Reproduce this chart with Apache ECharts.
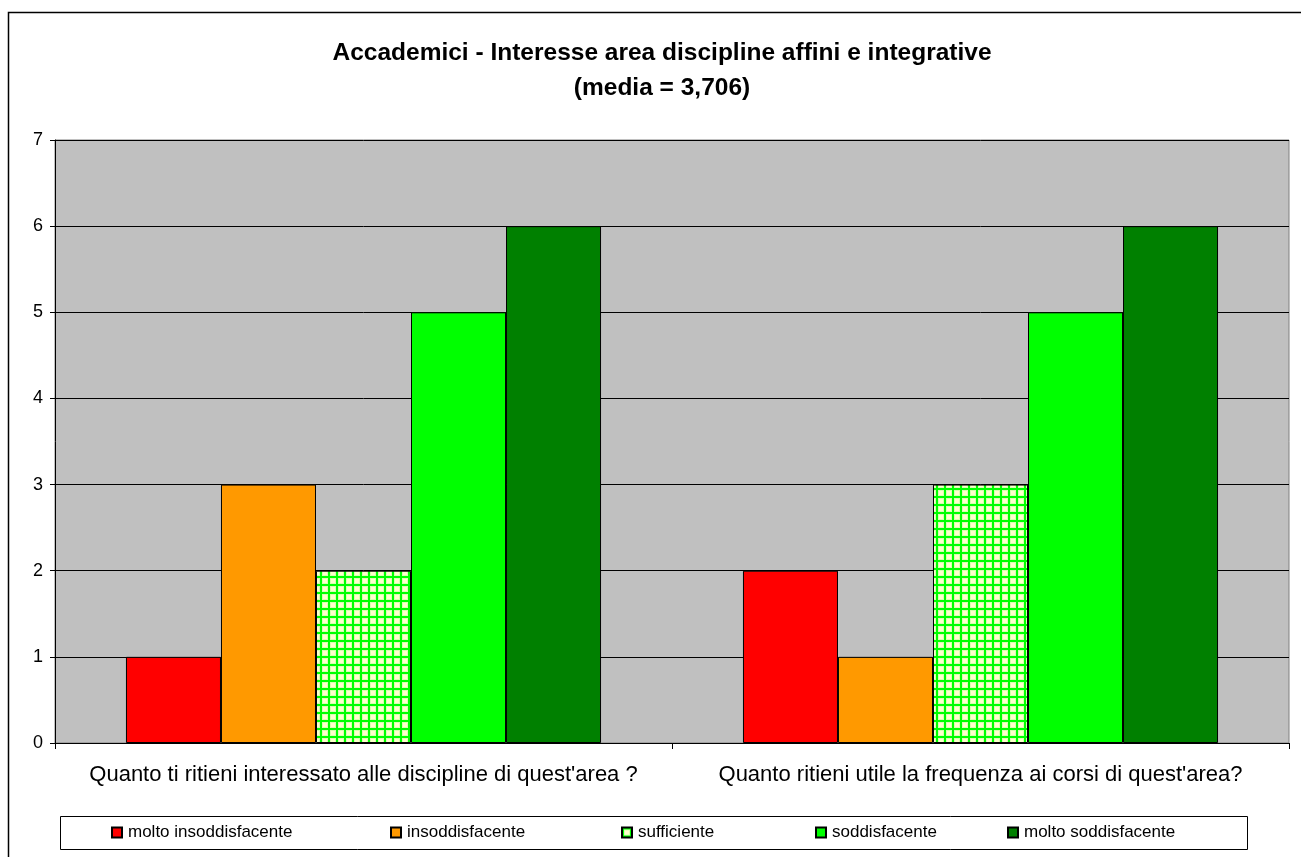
<!DOCTYPE html>
<html>
<head>
<meta charset="utf-8">
<title>Accademici - Interesse area discipline affini e integrative</title>
<script src="https://cdn.jsdelivr.net/npm/echarts@6/dist/echarts.min.js"></script>
<style>
  html, body { margin: 0; padding: 0; background: #fff; }
  #chart { width: 1301px; height: 857px; }
</style>
</head>
<body>
<div id="chart"></div>
<script>
// Questions (categories on the x axis)
const categories = [
  "Quanto ti ritieni interessato alle discipline di quest'area ?",
  "Quanto ritieni utile la frequenza ai corsi di quest'area?"
];

// Answer counts per rating, one value per question
const moltoInsoddisfacente = [1, 2];
const insoddisfacente = [3, 1];
const sufficiente = [2, 3];
const soddisfacente = [5, 5];
const moltoSoddisfacente = [6, 6];

const seriesNames = [
  'molto insoddisfacente',
  'insoddisfacente',
  'sufficiente',
  'soddisfacente',
  'molto soddisfacente'
];

// Y axis ticks
const yTicks = [0, 1, 2, 3, 4, 5, 6, 7];

const titleText = 'Accademici - Interesse area discipline affini e integrative\n(media = 3,706)';

// Checkered fill for "sufficiente": green lines on pale yellow cells
function makeCheckPattern() {
  const c = document.createElement('canvas');
  c.width = 8; c.height = 8;
  const g = c.getContext('2d');
  g.fillStyle = '#00ff00';
  g.fillRect(0, 0, 8, 8);
  g.fillStyle = '#d8ffb0';
  g.fillRect(2, 2, 6, 6);
  g.fillStyle = '#ffffcc';
  g.fillRect(3, 3, 4, 4);
  return c;
}

const fills = [
  '#ff0000',
  '#ff9900',
  { image: makeCheckPattern(), repeat: 'repeat' },
  '#00ff00',
  '#008000'
];
const values = [moltoInsoddisfacente, insoddisfacente, sufficiente, soddisfacente, moltoSoddisfacente];

// Legend marker positions along the boxed legend row
const legendLefts = [111, 390, 621, 815, 1007];

const chart = echarts.init(document.getElementById('chart'), null, { renderer: 'canvas' });

const option = {
  backgroundColor: '#ffffff',
  animation: false,
  textStyle: { fontFamily: 'Liberation Sans, Arial, sans-serif' },
  title: {
    text: titleText,
    left: 662,
    top: 36,
    padding: 0,
    textAlign: 'center',
    textStyle: {
      fontFamily: 'Liberation Sans, Arial, sans-serif',
      fontSize: 24.5,
      fontWeight: 'bold',
      color: '#000',
      lineHeight: 35
    }
  },
  graphic: [
    {
      type: 'rect',
      z: -10,
      silent: true,
      shape: { x: 8.5, y: 12.5, width: 1400, height: 1000 },
      style: { fill: 'none', stroke: '#000', lineWidth: 1.5 }
    },
    {
      type: 'rect',
      z: -5,
      silent: true,
      shape: { x: 60.5, y: 816.5, width: 1187, height: 33 },
      style: { fill: '#fff', stroke: '#000', lineWidth: 1 }
    }
  ],
  legend: seriesNames.map((name, i) => ({
    data: [name],
    left: legendLefts[i],
    top: 824,
    padding: 0,
    itemWidth: 10,
    itemHeight: 10,
    icon: 'rect',
    selectedMode: false,
    textStyle: {
      fontFamily: 'Liberation Sans, Arial, sans-serif',
      fontSize: 17,
      color: '#000',
      padding: [0, 0, 0, 1]
    }
  })),
  grid: {
    left: 55,
    right: 12,
    top: 140,
    bottom: 114,
    show: true,
    backgroundColor: '#c0c0c0',
    borderColor: '#808080',
    borderWidth: 1,
    containLabel: false
  },
  xAxis: {
    type: 'category',
    data: categories,
    boundaryGap: true,
    axisLine: { show: true, lineStyle: { color: '#000', width: 1 } },
    axisTick: { show: true, alignWithLabel: false, length: 6, inside: false, lineStyle: { color: '#000' } },
    axisLabel: {
      interval: 0,
      margin: 21,
      fontSize: 22,
      color: '#000',
      fontFamily: 'Liberation Sans, Arial, sans-serif'
    },
    splitLine: { show: false }
  },
  yAxis: {
    type: 'value',
    min: yTicks[0],
    max: yTicks[yTicks.length - 1],
    interval: 1,
    axisLine: { show: true, lineStyle: { color: '#000', width: 1 } },
    axisTick: { show: true, length: 5, lineStyle: { color: '#000' } },
    axisLabel: {
      margin: 12,
      fontSize: 18,
      color: '#000',
      fontFamily: 'Liberation Sans, Arial, sans-serif'
    },
    splitLine: { show: true, lineStyle: { color: '#000', width: 1 } }
  },
  series: seriesNames.map((name, i) => ({
    name: name,
    type: 'bar',
    data: values[i],
    barGap: '0%',
    barCategoryGap: '23%',
    itemStyle: {
      color: fills[i],
      borderColor: '#000',
      borderWidth: 1
    },
    emphasis: { disabled: true }
  }))
};

chart.setOption(option);
</script>
</body>
</html>
